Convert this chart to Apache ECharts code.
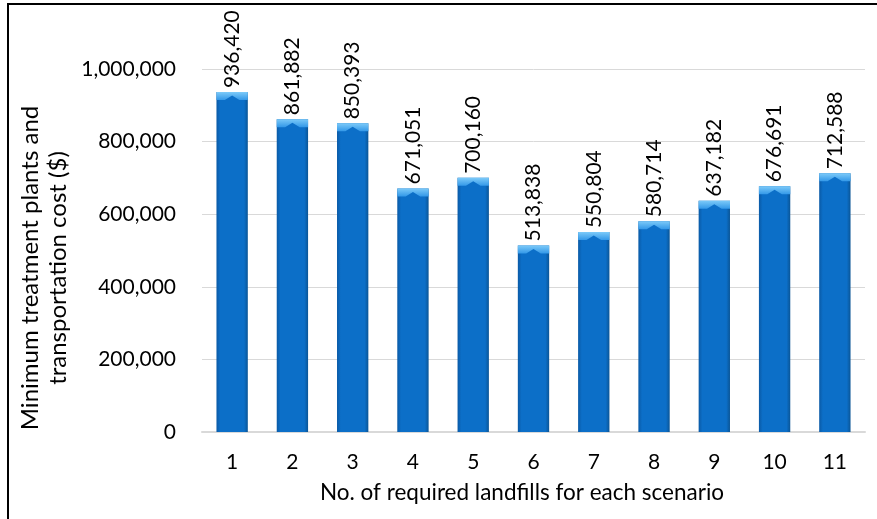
<!DOCTYPE html>
<html>
<head>
<meta charset="utf-8">
<script src="https://cdn.jsdelivr.net/npm/echarts@6/dist/echarts.min.js"></script>
<style>
  html, body { margin: 0; padding: 0; background: #fff; }
  #chart { width: 877px; height: 519px; }
</style>
</head>
<body>
<div id="chart"></div>
<script>
// Scenario numbers (number of required landfills) and the minimum cost for each
const scenarios = ['1', '2', '3', '4', '5', '6', '7', '8', '9', '10', '11'];
const minCost = [936420, 861882, 850393, 671051, 700160, 513838, 550804, 580714, 637182, 676691, 712588];
const yTicks = { min: 0, max: 1000000, step: 200000 };

const FONT = 'Lato';
const chart = echarts.init(document.getElementById('chart'), null, { renderer: 'canvas' });

// Bar body: darker edges, flat blue centre
const barFill = new echarts.graphic.LinearGradient(0, 0, 1, 0, [
  { offset: 0, color: '#0a5aa6' },
  { offset: 0.12, color: '#0c6fc8' },
  { offset: 0.88, color: '#0c6fc8' },
  { offset: 1, color: '#0a5596' }
]);
// Bevelled top face
const capFill = new echarts.graphic.LinearGradient(0, 0, 0, 1, [
  { offset: 0, color: '#7ccaf9' },
  { offset: 1, color: '#3398e8' }
]);

chart.setOption({
  animation: false,
  textStyle: { fontFamily: FONT },
  grid: { left: 202, right: 12, top: 69, bottom: 87, containLabel: false },
  xAxis: {
    type: 'category',
    data: scenarios,
    axisLine: { show: true, lineStyle: { color: '#d9d9d9', width: 2 } },
    axisTick: { show: false },
    axisLabel: { color: '#000', fontSize: 21, margin: 20, fontFamily: FONT }
  },
  yAxis: {
    type: 'value',
    min: yTicks.min,
    max: yTicks.max,
    interval: yTicks.step,
    axisLine: { show: false },
    axisTick: { show: false },
    splitLine: { lineStyle: { color: '#d9d9d9', width: 1 } },
    axisLabel: {
      color: '#000', fontSize: 21, margin: 26, fontFamily: FONT,
      formatter: v => v.toLocaleString('en-US')
    }
  },
  series: [
    {
      type: 'bar',
      data: minCost,
      barWidth: '52%',
      itemStyle: { color: barFill },
      label: {
        show: true,
        position: 'top',
        rotate: 90,
        align: 'left',
        verticalAlign: 'middle',
        distance: 4,
        color: '#000',
        fontSize: 21,
        fontFamily: FONT,
        formatter: p => p.value.toLocaleString('en-US')
      },
      z: 2
    },
    {
      type: 'pictorialBar',
      data: minCost,
      barWidth: '52%',
      barGap: '-100%',
      symbol: 'path://M0,0 L30,0 L30,8 L22,8 L15,3.5 L8,8 L0,8 Z',
      symbolSize: ['100%', 8],
      symbolPosition: 'end',
      symbolOffset: [0, 0],
      itemStyle: { color: capFill },
      silent: true,
      z: 3
    }
  ],
  graphic: [
    {
      type: 'text',
      x: 44, y: 268,
      rotation: Math.PI / 2,
      style: {
        text: 'Minimum treatment plants and\ntransportation cost ($)',
        font: '24px ' + FONT,
        fill: '#000',
        align: 'center',
        verticalAlign: 'middle',
        lineHeight: 28
      }
    },
    {
      type: 'text',
      x: 522, y: 493,
      style: {
        text: 'No. of required landfills for each scenario',
        font: '22.5px ' + FONT,
        fill: '#000',
        align: 'center',
        verticalAlign: 'middle'
      }
    },
    {
      type: 'polyline',
      shape: { points: [[877, 4], [8, 4], [8, 519]] },
      style: { stroke: '#000', lineWidth: 2, fill: null }
    }
  ]
});
</script>
</body>
</html>
